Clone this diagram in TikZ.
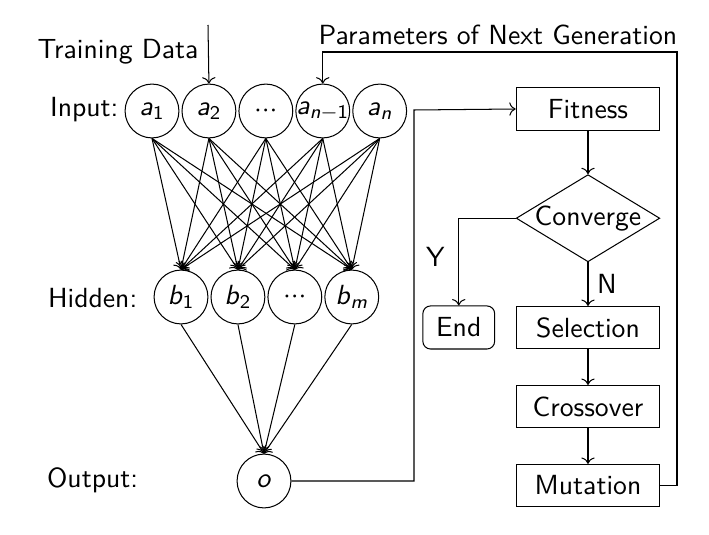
\documentclass[tikz,border=0pt]{standalone}
\usetikzlibrary{positioning, shapes.geometric, arrows.meta}

\newcommand{\nv}[2]{\textit{#1}\textsubscript{#2}}
\newcommand{\ndots}{${\cdot}{\cdot}{\cdot}$}

\begin{document}
\begin{tikzpicture}[x=0.39pt, y=-0.39pt,
            every node/.style={font=\sffamily\fontsize{10.8}{13}\selectfont},
            neuron/.style={draw=black, circle, minimum size=21pt, inner sep=-1pt},
            block/.style={draw=black, rectangle, minimum width=56pt, minimum height=16.4pt},
            decision/.style={draw=black, diamond, aspect=1.65, inner sep=-1.5pt, minimum width=56pt, minimum height=34pt},
            terminal/.style={draw=black, rectangle, rounded corners=3pt, minimum width=28pt, minimum height=16.8pt},
            edge/.style={draw=black},
            layerlabel/.style={anchor=west}
        ]
        \useasboundingbox (0,0) rectangle (709,535);

        % Eingabe
        \node[neuron] (a1) at (152,111) {\nv{a}{1}};
        \node[neuron, right=0.8pt of a1] (a2) {\nv{a}{2}};
        \node[neuron, right=0.8pt of a2] (a3) {\ndots};
        \node[neuron, right=0.8pt of a3] (a4) {\nv{a}{\textit{n}$-$1}};
        \node[neuron, right=0.8pt of a4] (a5) {\nv{a}{\textit{n}}};

        % Versteckt
        \node[neuron] (b1) at (181,297) {\nv{b}{1}};
        \node[neuron, right=0.8pt of b1] (b2) {\nv{b}{2}};
        \node[neuron, right=0.8pt of b2] (b3) {\ndots};
        \node[neuron, right=0.8pt of b3] (b4) {\nv{b}{\textit{m}}};

        % Ausgabe
        \node[neuron] (o) at (264,481) {\textit{o}};

        \node[layerlabel] (lin) at (41,110) {Input:};
        \node[layerlabel] (lhid) at (39,298) {Hidden:};
        \node[layerlabel] (lout) at (38,480) {Output:};
        \node (data) at (118,52) {Training Data};
        \node (params) at (498,35) {Parameters of Next Generation};

        % Ablauf
        \node[block] (fit) at (588,109) {Fitness};
        \node[decision, below=17pt of fit] (conv) {Converge};
        \node[block, below=17pt of conv] (sel) {Selection};
        \node[terminal, left=8pt of sel] (end) {End};
        \node[block, below=14pt of sel] (cross) {Crossover};
        \node[block, below=14pt of cross] (mut) {Mutation};

        \coordinate (datain) at (208,25);
        \coordinate (fbtop) at (677,52);
        \coordinate (turn) at (414,110);

        % Kanten
        \foreach \i in {a1,a2,a3,a4,a5}
            \foreach \j in {b1,b2,b3,b4}
                \draw[edge, ->] (\i.south) -- (\j.north);
        \foreach \j in {b1,b2,b3,b4}
            \draw[edge, ->] (\j.south) -- (o.north);

        \draw[edge, ->] (datain) -- (a2.north);
        \draw[edge, ->] (mut.east) -| (fbtop) -| (a4.north);
        \draw[edge, ->] (o.east) -| (turn) -- (fit.west);

        \draw[edge, ->] (fit) -- (conv);
        \draw[edge, ->] (conv) -- (sel) node[midway, right] {N};
        \draw[edge, ->] (conv.west) -| (end.north) node[pos=0.72, left=2pt] {Y};
        \draw[edge, ->] (sel) -- (cross);
        \draw[edge, ->] (cross) -- (mut);

    \end{tikzpicture}
\end{document}
